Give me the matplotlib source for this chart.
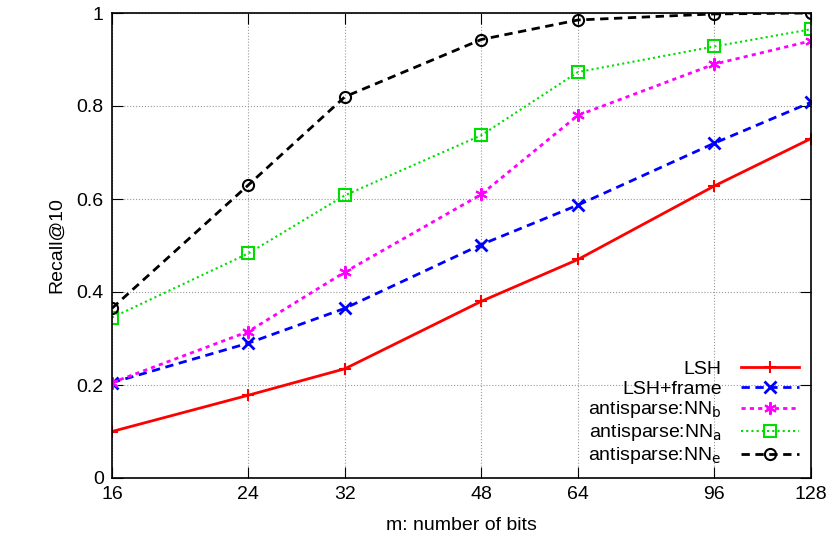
import matplotlib
matplotlib.use("Agg")
import matplotlib.pyplot as plt
from matplotlib.ticker import FixedLocator, NullLocator

plt.rcParams['font.family'] = 'Liberation Sans'
plt.rcParams['font.size'] = 14

bits = [16, 24, 32, 48, 64, 96, 128]
lsh = [0.10, 0.178, 0.235, 0.38, 0.47, 0.628, 0.73]
lsh_frame = [0.205, 0.29, 0.365, 0.502, 0.587, 0.72, 0.808]
nn_b = [0.205, 0.315, 0.443, 0.61, 0.78, 0.89, 0.94]
nn_a = [0.345, 0.483, 0.608, 0.737, 0.873, 0.928, 0.965]
nn_e = [0.365, 0.63, 0.82, 0.943, 0.985, 0.998, 1.0]

fig = plt.figure(figsize=(8.3, 5.57), dpi=100)
ax = fig.add_axes([112/830, 1-478/557, (811-112)/830, (478-13)/557])
ax.plot(bits, lsh, color='#ff0000', ls='-', lw=2, marker='+', ms=9, mew=1.5, label='LSH')
ax.plot(bits, lsh_frame, color='#0000ff', ls=(0, (3, 2)), lw=2, marker='x', ms=8, mew=2, label='LSH+frame')
ax.plot(bits, nn_b, color='#ff00ff', ls=(0, (1.5, 1.5)), lw=2, marker=(6, 2, 0), ms=9, mew=1.5, label='antisparse:NN$_\\mathrm{b}$')
ax.plot(bits, nn_a, color='#00dd00', ls=(0, (1, 1.5)), lw=1.5, marker='s', ms=8, mfc='none', mew=1.5, label='antisparse:NN$_\\mathrm{a}$')
ax.plot(bits, nn_e, color='#000000', ls=(0, (3, 2)), lw=2, marker='o', ms=8, mfc='none', mew=1.5, label='antisparse:NN$_\\mathrm{e}$')

ax.set_xscale('log', base=2)
ax.set_xlim(16, 128)
ax.set_ylim(0, 1)
ax.xaxis.set_major_locator(FixedLocator(bits))
ax.xaxis.set_minor_locator(NullLocator())
ax.set_xticklabels([str(b) for b in bits])
ax.set_yticks([0, 0.2, 0.4, 0.6, 0.8, 1])
ax.set_yticklabels(['0', '0.2', '0.4', '0.6', '0.8', '1'])
ax.tick_params(direction='in', length=8, top=True, right=True, pad=6)
ax.grid(True, color='#999999', ls=':', lw=0.8)
for s in ax.spines.values():
    s.set_linewidth(1.2)
ax.set_xlabel('m: number of bits', labelpad=10)
ax.set_ylabel('Recall@10', labelpad=8)
leg = ax.legend(loc='lower right', frameon=False, markerfirst=False, handlelength=3.0,
                labelspacing=0.1, borderaxespad=0.2, handletextpad=1.0)
for t in leg.get_texts():
    t.set_ha('right')
fig.savefig('out.png', dpi=100)
